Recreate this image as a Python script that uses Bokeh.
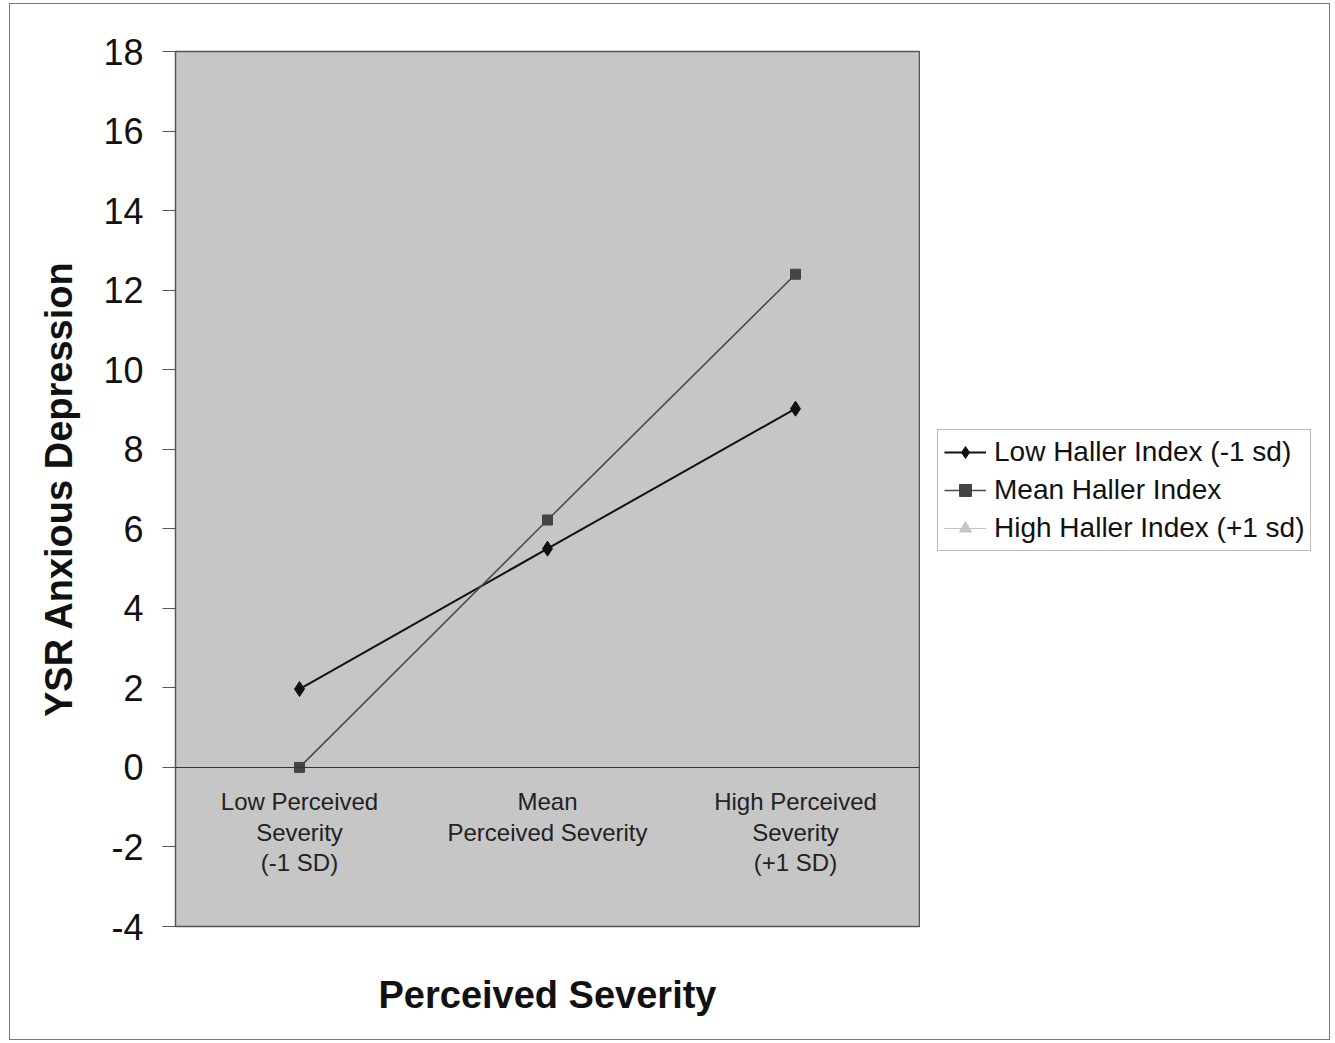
import numpy as np
from bokeh.plotting import figure
from bokeh.layouts import row
from bokeh.models import (Range1d, FactorRange, Legend, LegendItem, FixedTicker,
                          LinearAxis)
from bokeh.embed import file_html
from bokeh.resources import INLINE

# ---- data ----
categories = ["Low Perceived\nSeverity\n(-1 SD)",
              "Mean\nPerceived Severity",
              "High Perceived\nSeverity\n(+1 SD)"]
low_haller = [1.97, 5.5, 9.02]      # Low Haller Index (-1 sd)
mean_haller = [0.0, 6.22, 12.4]     # Mean Haller Index
high_haller = [np.nan, np.nan, np.nan]  # High Haller Index (+1 sd): no visible points in the chart
y_ticks = [-4, -2, 0, 2, 4, 6, 8, 10, 12, 14, 16, 18]
series_labels = ["Low Haller Index (-1 sd)", "Mean Haller Index", "High Haller Index (+1 sd)"]

FONT = "Liberation Sans"
LOW_LINE = dict(line_color="#111111", line_width=2)
LOW_MARK = dict(marker="diamond", size=15, fill_color="#111111", line_color="#111111")
MEAN_LINE = dict(line_color="#4a4a4a", line_width=1.6)
MEAN_MARK = dict(marker="square", size=10, fill_color="#444444", line_color="#444444")
HIGH_LINE = dict(line_color="#c4c4c4", line_width=1.2)
HIGH_MARK = dict(marker="triangle", size=9, fill_color="#c4c4c4", line_color="#c4c4c4")

xr = FactorRange(*categories, range_padding=0)
yr = Range1d(-4, 18)

p = figure(frame_width=744, frame_height=875, x_range=xr, y_range=yr,
           output_backend="svg", toolbar_location=None,
           min_border_left=165, min_border_top=47,
           min_border_right=1, min_border_bottom=113)

p.background_fill_color = "#c6c6c6"
p.border_fill_color = "white"
p.outline_line_color = "#555555"
p.outline_line_width = 1.5
p.grid.visible = False

# y axis
ya = p.yaxis[0]
ya.ticker = FixedTicker(ticks=y_ticks)
ya.major_label_overrides = {t: str(t) for t in y_ticks}
ya.major_tick_out = 13
ya.major_tick_in = 0
ya.minor_tick_line_color = None
ya.major_label_standoff = 19
ya.major_label_text_font = FONT
ya.major_label_text_font_size = "36px"
ya.major_label_text_color = "#111111"
ya.axis_line_color = "#555555"
ya.major_tick_line_color = "#555555"
ya.axis_label = "YSR Anxious Depression"
ya.axis_label_text_font = FONT
ya.axis_label_text_font_size = "38px"
ya.axis_label_text_font_style = "bold"
ya.axis_label_text_color = "#111111"
ya.axis_label_standoff = 20

# category axis crossing at y = 0
xa = p.xaxis[0]
xa.fixed_location = 0
xa.axis_line_color = "#333333"
xa.axis_line_width = 1
xa.major_tick_line_color = None
xa.minor_tick_line_color = None
xa.major_label_standoff = 15
xa.major_label_text_font = FONT
xa.major_label_text_font_size = "24px"
xa.major_label_text_line_height = 1.12
xa.major_label_text_color = "#222222"
xa.major_label_orientation = "horizontal"

# axis title below the plot area (axis without ticks)
xt = LinearAxis(ticker=FixedTicker(ticks=[]),
                axis_label="Perceived Severity",
                axis_label_text_font=FONT, axis_label_text_font_size="38px",
                axis_label_text_font_style="bold", axis_label_text_color="#111111",
                axis_label_standoff=47, major_label_standoff=0,
                major_tick_line_color=None, minor_tick_line_color=None,
                axis_line_color=None)
p.add_layout(xt, "below")

# series
p.line(categories, low_haller, **LOW_LINE)
p.scatter(categories, low_haller, **LOW_MARK)
p.line(categories, mean_haller, **MEAN_LINE)
p.scatter(categories, mean_haller, **MEAN_MARK)
p.line(categories, high_haller, **HIGH_LINE)
p.scatter(categories, high_haller, **HIGH_MARK)

# legend panel to the right: keys come from hidden copies of the series
q = figure(width=409, height=1035, x_range=xr, y_range=yr,
           x_axis_type=None, y_axis_type=None,
           output_backend="svg", toolbar_location=None,
           min_border_left=0, min_border_right=0, min_border_top=0, min_border_bottom=0)
q.outline_line_color = None
q.grid.visible = False
q.background_fill_color = "white"
q.border_fill_color = "white"
k1 = [q.line(categories, low_haller, visible=False, **LOW_LINE),
      q.scatter(categories, low_haller, visible=False, **LOW_MARK)]
k2 = [q.line(categories, mean_haller, visible=False, **MEAN_LINE),
      q.scatter(categories, mean_haller, visible=False, **MEAN_MARK)]
k3 = [q.line(categories, high_haller, visible=False, **HIGH_LINE),
      q.scatter(categories, high_haller, visible=False, **HIGH_MARK)]

legend = Legend(items=[LegendItem(label=series_labels[0], renderers=k1),
                       LegendItem(label=series_labels[1], renderers=k2),
                       LegendItem(label=series_labels[2], renderers=k3)],
                location=(17, 375), click_policy="none",
                inactive_fill_alpha=0,
                label_text_font=FONT, label_text_font_size="28px",
                label_text_color="#111111",
                glyph_width=42, glyph_height=30, label_height=30,
                spacing=6, padding=6, label_standoff=8, margin=0,
                border_line_color="#777777", border_line_width=1.2,
                background_fill_color="white", background_fill_alpha=1)
q.add_layout(legend, "center")

layout = row(p, q, spacing=0,
             styles={"border": "1.5px solid #777777", "margin-left": "9px", "margin-top": "3px"})

open("out.html", "w").write(file_html(layout, INLINE))
